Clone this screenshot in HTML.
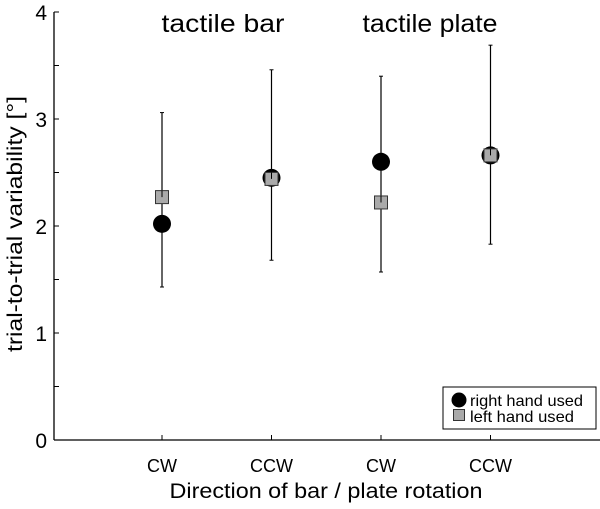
<!DOCTYPE html>
<html><head><meta charset="utf-8"><style>
body{margin:0;background:#fff}
svg text{font-family:"Liberation Sans",Arial,sans-serif;fill:#000}
</style></head><body>
<svg width="600" height="504" viewBox="0 0 600 504">
<g id="axes"></g><g id="marks"></g>
<text x="223" y="32" font-size="25" text-anchor="middle" textLength="123" lengthAdjust="spacingAndGlyphs">tactile bar</text>
<text x="430" y="32" font-size="25" text-anchor="middle" textLength="135" lengthAdjust="spacingAndGlyphs">tactile plate</text>
<text x="326" y="498" font-size="21" text-anchor="middle" textLength="313" lengthAdjust="spacingAndGlyphs">Direction of bar / plate rotation</text>
<text transform="translate(22,224) rotate(-90)" font-size="21" text-anchor="middle" textLength="256" lengthAdjust="spacingAndGlyphs">trial-to-trial variability [°]</text>
<g>
<rect x="443" y="387" width="153" height="42" fill="#fff" stroke="#000" stroke-width="1"/>
<circle cx="459" cy="400" r="7.5" fill="#000"/>
<rect x="453.5" y="409.5" width="11" height="11" fill="#aaa" stroke="#333"/>
<text x="470" y="406" font-size="16" textLength="113" lengthAdjust="spacingAndGlyphs">right hand used</text>
<text x="470" y="422" font-size="16" textLength="104" lengthAdjust="spacingAndGlyphs">left hand used</text>
</g>
</svg>
<script>
const categories=["CW","CCW","CW","CCW"];
const rightVals=[2.02,2.45,2.6,2.66];
const leftVals=[2.27,2.44,2.22,2.66];
const errTop=[3.06,3.46,3.4,3.69];
const errBottom=[1.43,1.68,1.57,1.83];
const yTicks=[0,1,2,3,4];
const NS="http://www.w3.org/2000/svg";
const y=v=>440-v*107;
const x=i=>162+i*109.5;
function mk(t,a,p){const e=document.createElementNS(NS,t);for(const k in a)e.setAttribute(k,a[k]);p.appendChild(e);return e;}
const ax=document.getElementById('axes'),mg=document.getElementById('marks');
let l=mk('line',{x1:54,y1:12,x2:54,y2:440,stroke:'#000','stroke-width':1.3},ax);


l=mk('line',{x1:54,y1:440,x2:600,y2:440,stroke:'#000','stroke-width':1.3},ax);


for(let v=0;v<=4;v+=0.5){mk('line',{x1:54,y1:y(v),x2:59,y2:y(v),stroke:'#000'},ax);}
yTicks.forEach(v=>{const t=mk('text',{x:47,y:y(v)+8,'font-size':21,'text-anchor':'end'},ax);t.textContent=v;

});
categories.forEach((c,i)=>{
mk('line',{x1:x(i),y1:440,x2:x(i),y2:435,stroke:'#000'},ax);
const t=mk('text',{x:x(i),y:472,'font-size':18,'text-anchor':'middle'},ax);t.textContent=c;


const g=mk('g',{},mg);


mk('line',{x1:x(i),y1:y(errTop[i]),x2:x(i),y2:y(errBottom[i]),stroke:'#000','stroke-width':1.2},g);
mk('line',{x1:x(i)-2,y1:y(errTop[i]),x2:x(i)+2,y2:y(errTop[i]),stroke:'#000'},g);
mk('line',{x1:x(i)-2,y1:y(errBottom[i]),x2:x(i)+2,y2:y(errBottom[i]),stroke:'#000'},g);
const ci=mk('circle',{cx:x(i),cy:y(rightVals[i]),r:9,fill:'#000'},mg);


const s=mk('rect',{x:x(i)-6.5,y:y(leftVals[i])-6.5,width:13,height:13,fill:'#aaa',stroke:'#333'},mg);


mk('line',{x1:x(i),y1:y(leftVals[i])-6.5,x2:x(i),y2:y(leftVals[i]),stroke:'#000'},mg);
});
</script>
</body></html>
